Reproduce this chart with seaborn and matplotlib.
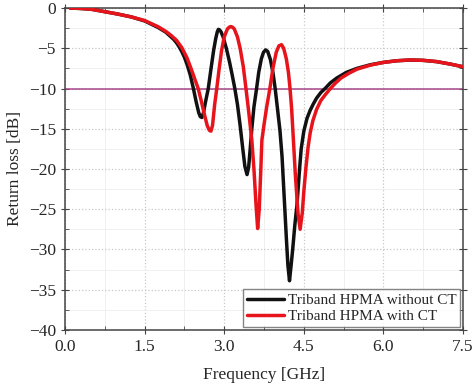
import numpy as np
import matplotlib
matplotlib.use("Agg")
import matplotlib.pyplot as plt
import pandas as pd
import seaborn as sns
from matplotlib.ticker import MultipleLocator, FormatStrFormatter

# return loss, frequency in GHz
freq_without = [0.1, 0.3, 0.5, 0.75, 1.0, 1.25, 1.5, 1.75, 1.9, 2.0, 2.05, 2.1, 2.15, 2.2, 2.25, 2.3,
                2.36, 2.42, 2.47, 2.52, 2.55, 2.58, 2.61, 2.65, 2.7, 2.75, 2.8, 2.84, 2.87, 2.89,
                2.91, 2.94, 2.98, 3.04, 3.1, 3.15, 3.2, 3.25, 3.3, 3.35, 3.39, 3.43, 3.46, 3.49,
                3.52, 3.56, 3.61, 3.65, 3.7, 3.74, 3.78, 3.82, 3.87, 3.92, 3.96, 4.0, 4.05, 4.09,
                4.13, 4.17, 4.2, 4.23, 4.26, 4.29, 4.33, 4.37, 4.42, 4.45, 4.5, 4.56, 4.62, 4.68,
                4.74, 4.82, 4.9, 5.0, 5.12, 5.3, 5.5, 5.75, 6.0, 6.25, 6.5, 6.75, 7.0, 7.25, 7.5]
rl_without = [0.0, -0.05, -0.15, -0.45, -0.75, -1.1, -1.6, -2.4, -3.0, -3.6, -3.9, -4.3, -4.8, -5.4, -6.1, -7.0,
              -8.3, -10.0, -11.6, -13.0, -13.5, -13.6, -13.0, -11.6, -10.0, -7.6, -5.3, -3.8, -2.95, -2.65,
              -2.7, -2.95, -3.6, -5.0, -6.7, -8.3, -10.0, -12.0, -14.6, -17.5, -19.7, -20.7, -19.8, -17.5,
              -15.0, -12.3, -10.0, -8.0, -6.3, -5.5, -5.2, -5.4, -6.4, -8.1, -10.0, -12.3, -15.2, -18.5,
              -23.5, -28.5, -32.0, -33.9, -32.0, -30.0, -27.0, -24.5, -20.0, -17.5, -15.3, -13.7, -12.7, -11.9,
              -11.2, -10.5, -10.0, -9.3, -8.7, -8.0, -7.5, -7.05, -6.75, -6.55, -6.46, -6.5, -6.66, -6.95, -7.3]

freq_with = [0.1, 0.3, 0.5, 0.75, 1.0, 1.25, 1.5, 1.75, 1.9, 2.0, 2.1, 2.2, 2.3, 2.38, 2.45, 2.51,
             2.57, 2.63, 2.68, 2.72, 2.75, 2.78, 2.82, 2.86, 2.9, 2.95, 3.0, 3.06, 3.1, 3.13, 3.16,
             3.19, 3.25, 3.3, 3.36, 3.41, 3.46, 3.52, 3.56, 3.6, 3.63, 3.66, 3.69, 3.71, 3.75, 3.8,
             3.86, 3.92, 3.98, 4.03, 4.08, 4.12, 4.17, 4.21, 4.24, 4.27, 4.3, 4.34, 4.39, 4.43,
             4.47, 4.5, 4.54, 4.58, 4.62, 4.67, 4.74, 4.82, 4.9, 5.0, 5.1, 5.2, 5.35, 5.5, 5.75,
             6.0, 6.25, 6.5, 6.75, 7.0, 7.25, 7.5]
rl_with = [0.0, -0.05, -0.15, -0.45, -0.75, -1.1, -1.55, -2.3, -2.9, -3.4, -4.0, -4.9, -6.2, -7.6, -8.9, -10.0,
           -11.6, -13.3, -14.6, -15.2, -15.3, -14.6, -12.0, -10.0, -7.8, -5.3, -3.6, -2.6, -2.35, -2.3, -2.4,
           -2.6, -3.6, -5.0, -7.3, -10.0, -12.8, -16.4, -20.0, -24.5, -27.4, -25.0, -20.0, -16.4, -14.5, -12.3,
           -10.0, -7.4, -5.5, -4.7, -4.55, -5.0, -6.3, -8.0, -10.0, -12.5, -16.0, -20.7, -25.5, -27.5,
           -25.5, -22.8, -19.8, -17.3, -15.5, -14.0, -12.6, -11.5, -10.8, -10.0, -9.3, -8.7, -8.1, -7.6, -7.1,
           -6.75, -6.55, -6.45, -6.5, -6.65, -6.95, -7.3]

labels = ["Triband HPMA without CT", "Triband HPMA with CT"]
colors = ["#111111", "#e8141c"]
ref_level = -10

df = pd.concat([
    pd.DataFrame({"f": freq_without, "rl": rl_without, "design": labels[0]}),
    pd.DataFrame({"f": freq_with, "rl": rl_with, "design": labels[1]}),
])

sns.set_style("ticks")
plt.rcParams["font.family"] = ["Liberation Serif", "DejaVu Serif"]

fig = plt.figure(figsize=(4.74, 3.84), dpi=100)
ax = fig.add_axes([0.137, 0.141, 0.840, 0.838])

ax.axhline(ref_level, color="#a8468a", lw=1.1, zorder=1)
sns.lineplot(data=df, x="f", y="rl", hue="design", palette=colors, sort=False,
             estimator=None, lw=2.5, ax=ax, zorder=3)

ax.set_xlim(0, 7.5)
ax.set_ylim(-40, 0)
ax.xaxis.set_major_locator(MultipleLocator(1.5))
ax.xaxis.set_minor_locator(MultipleLocator(0.75))
ax.yaxis.set_major_locator(MultipleLocator(5))
ax.yaxis.set_minor_locator(MultipleLocator(2.5))
ax.xaxis.set_major_formatter(FormatStrFormatter("%.1f"))
ax.grid(which="major", color="#c8c8c8", ls=":", lw=0.9)
ax.grid(which="minor", color="#eeeeee", ls="-", lw=0.6)
ax.tick_params(which="both", top=True, right=True, labelsize=12.5, color="#444444")
ax.tick_params(which="major", direction="inout", length=6)
ax.tick_params(which="minor", direction="in", length=3)
for s in ax.spines.values():
    s.set_color("#444444")
    s.set_linewidth(1.1)

ax.set_xlabel("Frequency [GHz]", fontsize=12.5, labelpad=9)
ax.set_ylabel("Return loss [dB]", fontsize=12.5)

leg = ax.legend(loc="lower right", fontsize=11, frameon=True, fancybox=False,
                borderpad=0.25, labelspacing=0.15, handlelength=2.4, handletextpad=0.25,
                borderaxespad=0.2)
leg.get_frame().set_edgecolor("#666666")
leg.get_frame().set_linewidth(1.0)
for line in leg.get_lines():
    line.set_linewidth(2.5)

fig.savefig("out.png", dpi=100)
